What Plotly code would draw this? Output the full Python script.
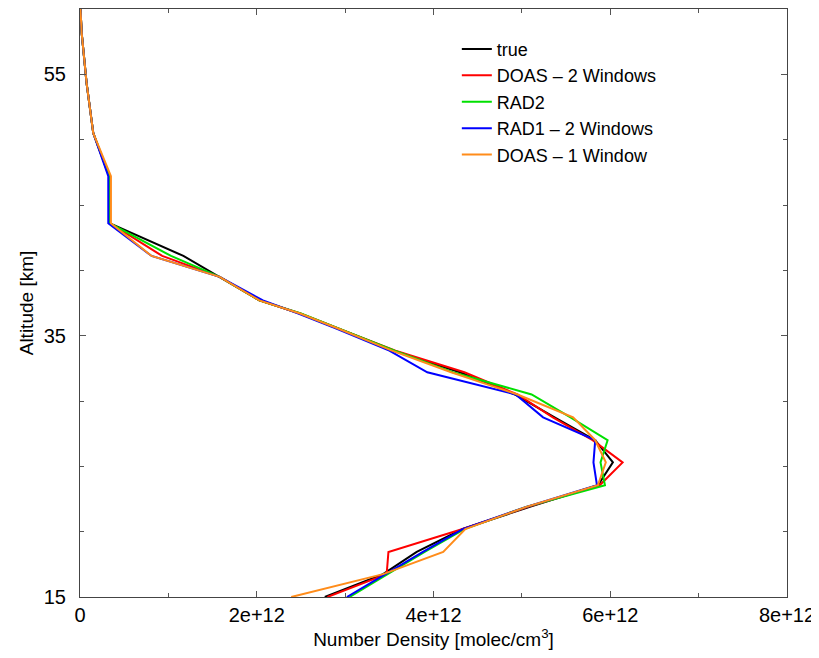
import plotly.graph_objects as go

# Altitude grid [km]
altitude = [15, 16.75, 18.45, 20.2, 21.9, 23.55, 25.3, 27.0, 28.75, 30.5, 32.2, 33.85,
            35.55, 36.7, 37.7, 39.5, 41.1, 43.6, 47.2, 50.5, 54.3, 58.1, 60]

# Number densities in units of 1e12 molec/cm^3
true_vals = [2.77, 3.43, 3.81, 4.33, 5.09, 5.86, 6.03, 5.83, 5.37, 4.92, 4.30, 3.55,
             2.92, 2.49, 2.03, 1.58, 1.17, 0.34, 0.33, 0.15, 0.075, 0.02, 0.005]
doas2_vals = [2.80, 3.47, 3.49, 4.33, 5.07, 5.88, 6.14, 5.80, 5.35, 4.95, 4.35, 3.57,
              2.92, 2.49, 2.03, 1.58, 0.93, 0.34, 0.33, 0.15, 0.075, 0.02, 0.005]
rad2_vals = [3.05, 3.48, 3.90, 4.35, 5.05, 5.94, 5.89, 5.97, 5.55, 5.11, 4.22, 3.56,
             2.93, 2.50, 2.03, 1.58, 1.03, 0.34, 0.33, 0.15, 0.075, 0.02, 0.005]
rad1_vals = [3.02, 3.45, 3.88, 4.33, 5.05, 5.85, 5.81, 5.83, 5.24, 4.93, 3.93, 3.50,
             2.90, 2.47, 2.07, 1.58, 0.81, 0.32, 0.32, 0.15, 0.075, 0.02, 0.005]
doas1_vals = [2.39, 3.43, 4.11, 4.36, 5.05, 5.86, 5.95, 5.83, 5.58, 4.95, 4.20, 3.53,
              2.92, 2.49, 2.03, 1.58, 0.81, 0.35, 0.35, 0.15, 0.075, 0.02, 0.005]

series_names = ["true", "DOAS \u2013 2 Windows", "RAD2", "RAD1 \u2013 2 Windows", "DOAS \u2013 1 Window"]
series_vals = [true_vals, doas2_vals, rad2_vals, rad1_vals, doas1_vals]
series_colors = ["#000000", "#ff0000", "#00e000", "#0000ff", "#ff8c1a"]

x_tickvals = [0, 2e12, 4e12, 6e12, 8e12]
x_ticktext = ["0", "2e+12", "4e+12", "6e+12", "8e+12"]
y_tickvals = [15, 35, 55]
y_ticktext = ["15", "35", "55"]

fig = go.Figure()
for name, vals, color in zip(series_names, series_vals, series_colors):
    fig.add_trace(go.Scatter(
        x=[v * 1e12 for v in vals], y=altitude, mode="lines", name=name,
        line=dict(color=color, width=2),
    ))

font_family = "Liberation Sans, Arial, Helvetica, sans-serif"
# The page body adds an 8 px offset, so the figure is 8 px smaller and margins shifted.
fig.update_layout(
    width=811, height=650,
    margin=dict(l=72, r=32, t=1, b=61),
    paper_bgcolor="white", plot_bgcolor="white",
    font=dict(family=font_family, size=16, color="black"),
    showlegend=True,
    legend=dict(x=0.533, y=0.963, xanchor="left", yanchor="top",
                bgcolor="rgba(0,0,0,0)", font=dict(size=18), tracegroupgap=0),
    xaxis=dict(
        range=[0, 8e12], tickvals=x_tickvals, ticktext=x_ticktext, automargin=False,
        tickfont=dict(size=20), ticklabelstandoff=0,
        ticks="inside", ticklen=6, tickcolor="#555", showgrid=False, zeroline=False,
        showline=True, linecolor="#444", linewidth=1, mirror="ticks",
        minor=dict(dtick=1e12, tick0=0, ticks="inside", ticklen=4, tickcolor="#555"),
        title=dict(text="Number Density [molec/cm<sup>3</sup>]", standoff=0),
    ),
    yaxis=dict(
        range=[15, 60], tickvals=y_tickvals, ticktext=y_ticktext, automargin=False,
        tickfont=dict(size=20), ticklabelstandoff=9,
        ticks="inside", ticklen=6, tickcolor="#555", showgrid=False, zeroline=False,
        showline=True, linecolor="#444", linewidth=1, mirror="ticks",
        minor=dict(dtick=5, tick0=15, ticks="inside", ticklen=4, tickcolor="#555"),
        title=dict(text="Altitude [km]", standoff=5),
    ),
)

fig.write_html("out.html")
